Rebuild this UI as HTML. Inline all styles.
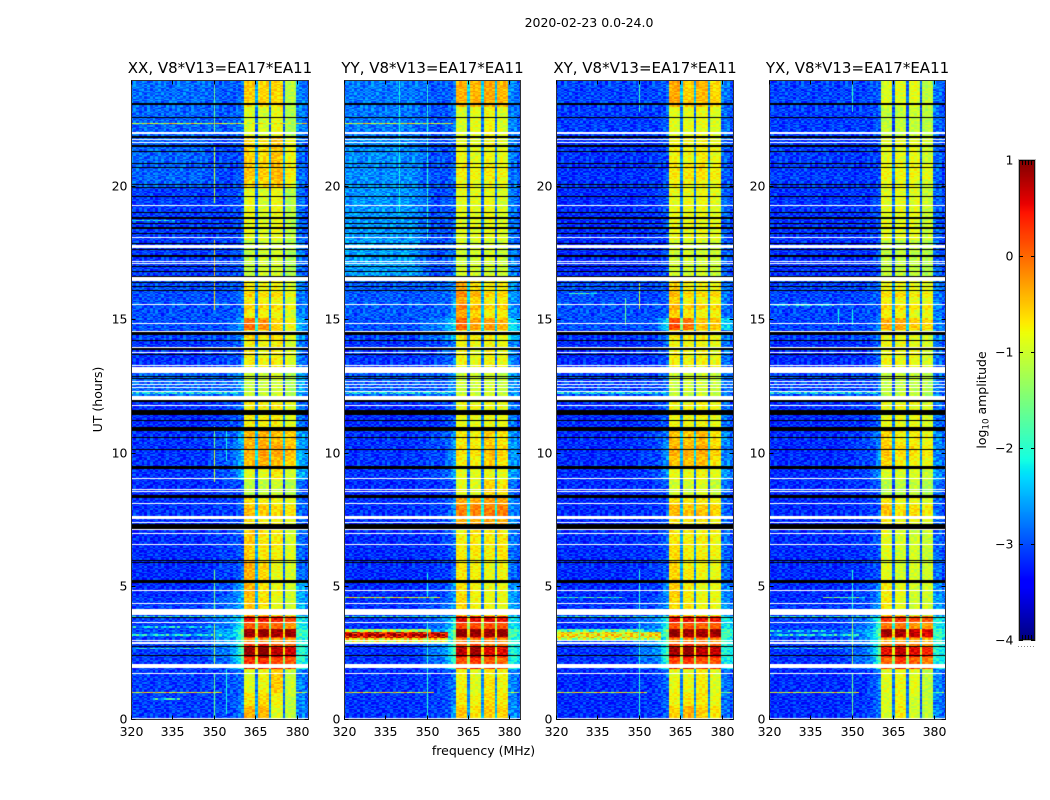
<!DOCTYPE html>
<html lang="en">
<head>
<meta charset="utf-8">
<title>2020-02-23 0.0-24.0</title>
<style>
html,body{margin:0;padding:0;background:#fff;}
#figure{position:relative;width:1050px;height:800px;overflow:hidden;background:#fff;font-family:"DejaVu Sans","Liberation Sans",sans-serif;}
canvas{position:absolute;display:block;}
svg{position:absolute;left:0;top:0;}
text{fill:#000;font-family:"DejaVu Sans","Liberation Sans",sans-serif;}
</style>
</head>
<body>
<div id="figure">
<svg id="overlay" width="1050" height="800">
  <text x="589" y="27" text-anchor="middle" font-size="12.5">2020-02-23 0.0-24.0</text>
  <text x="483.5" y="755" text-anchor="middle" font-size="12.5">frequency (MHz)</text>
  <text transform="translate(102,399.5) rotate(-90)" text-anchor="middle" font-size="12.5">UT (hours)</text>
  <text transform="translate(986,400) rotate(-90)" text-anchor="middle" font-size="12.5">log<tspan font-size="8.7" dy="2.5">10</tspan><tspan dy="-2.5"> amplitude</tspan></text>
</svg>
</div>
<script>
// ---- axis data ----
const freqTicks = [320, 335, 350, 365, 380];
const hourTicks = [0, 5, 10, 15, 20];
const colorTicks = [1, 0, -1, -2, -3, -4];
const panelTitles = ["XX, V8*V13=EA17*EA11", "YY, V8*V13=EA17*EA11", "XY, V8*V13=EA17*EA11", "YX, V8*V13=EA17*EA11"];
const panelKeys = ["xx", "yy", "xy", "yx"];

// ---- time segments (start hour); each panel lists log10 amplitude per segment:
// [bgLeft, bgRight, glowNearBand, subband1, subband2, subband3, subband4]
const segmentStarts = [0,.5,1,1.9,2.3,2.9,3.1,3.42,3.9,4.6,5.2,6,7.2,8.4,9,9.5,10.9,11.9,13.1,14.2,14.6,15.05,16.5,18,20,21.9,23];
const levelsXX = [
[-3.0,-2.95,-2.7,-.4,-.45,-.9,-1.1],[-3.0,-2.95,-2.7,-.7,-.6,-.8,-1.1],[-3.0,-2.95,-2.7,-.95,-.8,-.55,-1.05],
[-3.0,-2.8,-1.6,.55,.55,.4,.35],[-3.0,-2.7,-1.5,.7,.85,.55,.45],[-3.0,-2.6,-1.6,.2,.2,.2,.1],
[-2.9,-2.5,-1.4,.9,.9,.85,.9],[-3.0,-2.7,-1.8,.35,.35,.3,.05],[-3.0,-2.8,-2.4,-.5,-.65,-.9,-1.0],
[-3.1,-2.9,-2.4,-.4,-.7,-.85,-1.0],[-3.1,-3.0,-2.8,-.4,-.6,-.85,-1.0],[-3.1,-3.0,-2.9,-.55,-.7,-.75,-.95],
[-3.05,-3.0,-2.9,-.65,-.75,-.8,-.9],[-3.1,-3.0,-2.9,-1.15,-1.1,-1.05,-1.2],[-3.05,-2.9,-2.3,-.9,-.9,-.7,-1.0],
[-3.05,-2.9,-2.4,-.45,-.4,-.45,-.55],[-3.1,-3.0,-2.8,-.75,-.75,-.75,-.9],[-2.8,-2.8,-2.6,-1.05,-1.05,-1.0,-1.2],
[-3.05,-2.95,-2.8,-.75,-.8,-.75,-.95],[-2.95,-2.9,-2.6,-.6,-.7,-.7,-.9],[-2.9,-2.9,-2.4,-.05,-.2,-.6,-.8],
[-2.9,-2.9,-2.8,-.75,-.8,-.8,-1.0],[-3.0,-2.95,-2.9,-1.1,-1.0,-1.0,-1.2],[-3.0,-3.0,-2.9,-.85,-.95,-.85,-1.15],
[-2.8,-2.95,-2.9,-.6,-.65,-.5,-.85],[-2.8,-2.85,-2.8,-.95,-1.0,-.85,-1.2],[-2.75,-2.85,-2.8,-.55,-.6,-.6,-1.15]];
const levelsYY = [
[-3.05,-3.0,-2.5,-.5,-.7,-.5,-.6],[-3.05,-3.0,-2.7,-.7,-.8,-.6,-.7],[-3.05,-3.0,-2.7,-.8,-.9,-.7,-.8],
[-3.05,-2.8,-1.7,.4,.5,.35,.25],[-3.05,-2.7,-1.6,.55,.7,.4,.35],[-3.0,-2.6,-1.5,.3,.3,.3,.2],
[-2.9,-2.5,-1.3,.95,.95,.9,.9],[-3.05,-2.8,-1.9,.5,.45,.45,.4],[-3.05,-2.9,-2.5,-.6,-.8,-.85,-.85],
[-3.1,-3.0,-2.5,-.65,-.8,-.85,-.85],[-3.1,-3.05,-2.8,-.7,-.75,-.85,-.8],[-3.1,-3.05,-2.8,-.75,-.7,-.75,-.7],
[-3.05,-3.0,-2.6,-.35,-.35,-.3,-.35],[-3.1,-3.05,-2.9,-.9,-.9,-.6,-.7],[-3.05,-2.95,-2.4,-.9,-.9,-.85,-.9],
[-3.05,-2.95,-2.5,-.75,-.8,-.55,-.7],[-3.1,-3.05,-2.8,-.85,-.85,-.85,-.85],[-2.85,-2.85,-2.6,-1.05,-1.05,-1.0,-1.1],
[-3.05,-2.95,-2.7,-.8,-.85,-.8,-.85],[-2.95,-2.75,-2.3,-.7,-.75,-.75,-.8],[-2.9,-2.7,-2.1,0,-.3,-.3,-.4],
[-2.85,-2.85,-2.6,-.35,-.6,-.75,-.75],[-2.5,-2.9,-2.8,-1.0,-1.0,-1.0,-1.05],[-2.55,-2.9,-2.9,-.9,-.9,-.85,-.95],
[-2.6,-2.9,-2.85,-.85,-.9,-.8,-.9],[-2.7,-2.9,-2.8,-.95,-.9,-.8,-.95],[-2.7,-2.85,-2.8,-.4,-.4,-.35,-.45]];
const levelsXY = [
[-3.1,-3.05,-2.8,-.6,-.4,-.55,-.7],[-3.1,-3.05,-2.8,-.8,-.7,-.7,-.85],[-3.1,-3.05,-2.8,-.85,-.85,-.75,-.9],
[-3.05,-2.8,-1.7,.45,.5,.4,.35],[-3.05,-2.7,-1.6,.65,.75,.55,.5],[-3.0,-2.6,-1.6,.3,.3,.3,.2],
[-2.95,-2.5,-1.3,.95,.9,.85,.9],[-3.05,-2.7,-1.9,.4,.4,.35,.35],[-3.05,-2.95,-2.6,-.6,-.7,-.85,-.85],
[-3.1,-3.05,-2.6,-.55,-.75,-.85,-.85],[-3.1,-3.05,-2.85,-.6,-.7,-.8,-.85],[-3.1,-3.05,-2.9,-.65,-.75,-.75,-.8],
[-3.1,-3.05,-2.9,-.65,-.7,-.7,-.8],[-3.1,-3.05,-2.9,-1.0,-1.0,-.95,-1.05],[-3.1,-3.0,-2.5,-.85,-.85,-.8,-.9],
[-3.1,-3.0,-2.6,-.5,-.5,-.45,-.7],[-3.1,-3.05,-2.85,-.8,-.8,-.8,-.85],[-2.95,-2.95,-2.8,-1.05,-1.05,-1.0,-1.1],
[-3.1,-3.05,-2.85,-.75,-.8,-.8,-.85],[-3.05,-3.0,-2.75,-.7,-.75,-.75,-.85],[-2.9,-2.9,-2.0,.15,-.05,-.5,-.5],
[-2.9,-2.95,-2.85,-.6,-.75,-.8,-.8],[-3.1,-3.05,-2.95,-1.0,-1.0,-1.0,-1.05],[-3.1,-3.05,-2.95,-.85,-.85,-.85,-.9],
[-3.05,-3.05,-2.95,-.8,-.8,-.75,-.85],[-3.0,-3.0,-2.9,-.9,-.9,-.85,-.95],[-2.95,-2.95,-2.85,-.35,-.55,-.45,-.6]];
const levelsYX = [
[-3.1,-3.05,-2.6,-1.0,-.7,-1.0,-1.1],[-3.1,-3.05,-2.7,-.95,-.8,-1.0,-1.1],[-3.1,-3.05,-2.7,-.9,-.85,-.9,-1.1],
[-3.05,-2.8,-1.6,.25,.5,.3,.1],[-3.05,-2.8,-1.5,.3,.55,.35,.15],[-3.0,-2.7,-1.6,.1,.1,.1,0],
[-2.9,-2.6,-1.4,.85,.85,.7,.6],[-3.0,-2.8,-1.7,.2,.2,.05,0],[-3.05,-2.95,-2.5,-.7,-.9,-1.0,-1.0],
[-3.1,-3.0,-2.5,-.75,-.9,-1.0,-1.0],[-3.1,-3.05,-2.85,-.9,-1.0,-1.0,-1.0],[-3.1,-3.05,-2.9,-.9,-1.0,-1.0,-1.05],
[-3.1,-3.05,-2.9,-.7,-.85,-.85,-.95],[-3.1,-3.05,-2.9,-1.15,-1.15,-1.1,-1.2],[-3.1,-3.0,-2.5,-.95,-.95,-.95,-1.05],
[-3.1,-3.0,-2.6,-.6,-.75,-.75,-.85],[-3.1,-3.05,-2.85,-.85,-.85,-.85,-.95],[-2.95,-2.95,-2.8,-1.1,-1.1,-1.1,-1.2],
[-3.1,-3.05,-2.85,-.8,-.85,-.85,-.95],[-3.0,-2.95,-2.7,-.85,-.9,-.9,-1.0],[-2.95,-2.95,-2.7,-.35,-.35,-.55,-.6],
[-2.95,-2.95,-2.8,-.8,-.8,-.9,-.9],[-3.05,-3.05,-2.95,-1.1,-1.1,-1.1,-1.2],[-3.05,-3.05,-2.95,-.9,-.9,-.9,-1.05],
[-3.0,-3.05,-2.95,-.9,-.9,-.9,-1.0],[-3.0,-3.0,-2.9,-1.1,-1.1,-1.05,-1.15],[-2.95,-2.95,-2.9,-.95,-.9,-.9,-1.1]];
const panelLevels = [levelsXX, levelsYY, levelsXY, levelsYX];

// ---- band brightness changes shared by all panels: [startHour, endHour, log10 offset]
const bandStripes = [[2.05,2.35,-.25],[2.35,2.75,.2],[2.75,3.05,-.45],[3.42,3.65,-.3],[3.65,3.85,.1],[7.55,8.05,.2],[15.35,15.55,.2],[15.85,16.05,.2],[9.9,10.3,.12],[20.3,20.9,.1]];

// ---- narrow-band interference: [panelIndex, startHour, endHour, startMHz, endMHz, log10 amplitude]
const rfiRows = [
[0,1.0,1.05,320,353,-.75],[1,1.0,1.05,320,353,-.8],[2,1.0,1.05,320,353,-.9],[3,1.0,1.05,320,353,-1.0],
[0,1.0,1.05,380,384,-1.2],[1,1.0,1.05,380,384,-1.4],[2,1.0,1.05,380,384,-1.5],[3,1.0,1.05,380,384,-1.5],
[0,3.15,3.22,320,353,-2.15],[0,2.65,2.7,320,350,-2.3],[0,3.45,3.5,320,350,-2.4],
[3,3.15,3.22,320,353,-2.2],[3,2.65,2.7,320,350,-2.5],[3,3.3,3.35,320,345,-2.5],
[1,3.07,3.3,320,358,.45],[1,3.14,3.2,320,358,.8],[1,3.0,3.07,320,358,-.7],[1,2.9,2.96,320,358,-1.0],[1,3.3,3.4,320,352,-1.3],
[2,3.07,3.3,320,358,-.75],[2,3.0,3.07,320,358,-1.3],[2,3.3,3.4,320,352,-1.8],
[1,4.53,4.58,320,355,-1.0],[2,4.53,4.58,320,345,-2.1],[3,4.53,4.58,340,355,-1.8],
[0,12.21,12.28,320,360,-2.25],[1,12.21,12.28,320,360,-2.3],[2,12.21,12.28,320,360,-2.3],[3,12.21,12.28,320,360,-2.3],
[0,3.85,3.91,320,360,-2.3],[1,3.85,3.91,320,360,-2.3],[2,3.85,3.91,320,360,-2.3],[3,3.85,3.91,320,360,-2.3],
[0,14.2,14.25,320,360,-1.0],[0,22.33,22.38,320,384,-.9],[1,22.33,22.38,320,360,-.9],
[0,0.75,0.8,328,338,-2.2],[0,18.7,18.75,320,336,-2.2],[3,15.5,15.6,320,345,-2.3],[2,15.95,16.02,325,335,-1.9]];
// [panelIndex, MHz, startHour, endHour, log10 amplitude]
const rfiColumns = [
[0,350,0,1.7,-1.6],[0,350,2,3.6,-1.2],[0,350,3.9,5.6,-1.5],[0,350,8.9,10.1,-1.0],[0,350,10.2,11,-1.5],[0,350,15.35,18,-.6],[0,350,19.4,21.5,-1.0],[0,350,22,24,-1.6],
[0,354.4,.2,1.9,-2.1],[0,354.4,9.7,11,-2.1],
[1,350,0,3.7,-2.0],[1,350,4.6,5.5,-2.1],[1,350,18,24,-2.0],[1,340,19,24,-2.1],
[2,350,0,3.7,-2.0],[2,350,4.1,5.6,-2.0],[2,350,22.8,24,-1.9],[2,350,15.4,16.4,-1.0],[2,345,14.8,15.8,-1.6],
[3,350,0,1.7,-1.6],[3,350,2,3.9,-1.3],[3,350,4.1,5.6,-2.0],[3,350,22.8,24,-1.9],[3,345,14.8,15.4,-2.1],[3,350,14.8,15.4,-2.1]];

// ---- flagged time ranges drawn on top of every panel (hours)
const whiteFlags = [[0,.05],[1.70,1.76],[1.92,2.07],[2.84,2.90],[2.94,3.0],[3.61,3.67],[3.91,4.13],[4.33,4.39],[4.82,4.88],[6.55,6.60],[6.96,7.02],[7.09,7.14],[7.36,7.42],[7.53,7.63],[8.08,8.14],[8.53,8.59],[8.61,8.67],[9.02,9.08],[11.76,11.82],[11.98,12.13],[12.29,12.35],[12.44,12.5],[12.55,12.61],[12.66,12.72],[13.0,13.22],[13.27,13.33],[13.75,13.81],[13.94,14.0],[14.55,14.6],[14.84,14.9],[15.56,15.62],[16.45,16.6],[17.10,17.15],[17.18,17.23],[17.70,17.80],[18.08,18.13],[19.28,19.33],[21.65,21.69],[21.73,21.77],[21.97,22.05]];
const blackFlags = [[2.38,2.44],[2.72,2.78],[3.81,3.87],[5.13,5.22],[5.88,5.92],[5.95,5.99],[7.15,7.34],[8.33,8.42],[9.41,9.50],[10.12,10.17],[10.57,10.62],[10.82,10.97],[11.21,11.26],[11.42,11.6],[11.90,11.98],[12.79,12.84],[12.86,12.91],[13.69,13.74],[13.88,13.93],[14.21,14.27],[14.44,14.54],[16.09,16.14],[16.24,16.29],[16.39,16.43],[16.61,16.66],[16.81,16.85],[16.99,17.04],[17.36,17.43],[17.63,17.68],[17.86,17.9],[18.23,18.28],[18.42,18.47],[18.61,18.65],[18.80,18.84],[19.02,19.06],[19.62,19.67],[19.96,20.0],[20.07,20.11],[20.71,20.75],[20.86,20.9],[21.31,21.35],[21.48,21.55],[21.84,21.88],[22.59,22.63],[23.08,23.12]];

// ---- speckle tile (-3..3 once offset)
const speckleTile = [
"3516024635102463","1462350316425063","5203641526034152","2640153624315062",
"4153062514620351","0356214063251436","3624501352416025","5140326461035243",
"2563014325640136","4031562640152463","1654230516324015","3240615342605134",
"6012453160342561","2536140425163042","4105326351460213","0643251526013564",
"3261504340256130","5430162615324061","1526340253641524"];

// ---- layout (pixels)
const plotLefts = [131, 344, 556, 769];
const plotWidths = [177, 176, 177, 176];
const plotTop = 80, plotBottom = 719.5, hourMax = 24, mhzMin = 320, mhzMax = 384;
const channelOrigin = 319.8, channelCount = 65, rowCount = 480;
const cbarLeft = 1019, cbarRight = 1035, cbarTop = 160, cbarBottom = 640, colorMin = -4, colorMax = 1;
const backgroundShift = -.1, backgroundSpeckle = .11, bandSpeckle = .07;

const yScale = h => plotBottom - (h / hourMax) * (plotBottom - plotTop);
const xScale = (p, mhz) => plotLefts[p] + (mhz - mhzMin) / (mhzMax - mhzMin) * plotWidths[p];
const colorY = v => cbarBottom - (v - colorMin) / (colorMax - colorMin) * (cbarBottom - cbarTop);

function ramp(t, pts) {
  if (t <= pts[0][0]) return pts[0][1];
  for (let i = 1; i < pts.length; i++) {
    if (t <= pts[i][0]) {
      const a = pts[i - 1], b = pts[i];
      return a[1] + (b[1] - a[1]) * (t - a[0]) / (b[0] - a[0]);
    }
  }
  return pts[pts.length - 1][1];
}
const redStops = [[0,0],[.35,0],[.66,1],[.89,1],[1,.5]];
const greenStops = [[0,0],[.125,0],[.375,1],[.64,1],[.91,0],[1,0]];
const blueStops = [[0,.5],[.11,1],[.34,1],[.65,0],[1,0]];
function jet(v) {
  const t = Math.max(0, Math.min(1, (v - colorMin) / (colorMax - colorMin)));
  return "rgb(" + Math.round(255 * ramp(t, redStops)) + "," + Math.round(255 * ramp(t, greenStops)) + "," + Math.round(255 * ramp(t, blueStops)) + ")";
}

function segmentFor(hour, levels) {
  let i = 0;
  while (i + 1 < segmentStarts.length && hour >= segmentStarts[i + 1]) i++;
  return levels[i];
}

function bandOffset(hour) {
  let d = 0;
  for (const s of bandStripes) if (hour >= s[0] && hour < s[1]) d += s[2];
  return d;
}

function gapValue(a, b) {
  const mean = (a + b) / 2;
  return mean < 0 ? mean - 1.95 : mean - 1.5;
}

function baseValue(seg, f, hour) {
  const bgL = seg[0] + backgroundShift, bgR = seg[1] + backgroundShift, glow = seg[2];
  const off = bandOffset(hour);
  const bandMean = i => seg[3 + i] + off;
  if (f < 345) return bgL;
  if (f < 352) return bgL + (bgR - bgL) * (f - 345) / 7;
  if (f < 360.8) { const t = (f - 352) / 8.8; return bgR + (glow - bgR) * t * t * t; }
  if (f < 364.8) return bandMean(0);
  if (f < 365.8) return gapValue(bandMean(0), bandMean(1));
  if (f < 369.8) return bandMean(1);
  if (f < 370.8) return gapValue(bandMean(1), bandMean(2));
  if (f < 374.8) return bandMean(2);
  if (f < 375.8) return gapValue(bandMean(2), bandMean(3));
  if (f < 379.9) return bandMean(3);
  return (glow + bgR) / 2 + (f < 383 ? .15 : -.05);
}

function speckle(row, col, p) {
  const rows = speckleTile.length, cols = speckleTile[0].length;
  const block = Math.floor(row / rows);
  const line = speckleTile[row % rows];
  const shift = block * 5 + p * 7;
  return Number(line[(col + shift) % cols]) - 3;
}

function drawFlags(ctx, list, top, width) {
  for (const b of list) {
    const thin = b[1] - b[0] < .07;
    const mid = (b[0] + b[1]) / 2;
    const h0 = thin ? mid - .02 : b[0], h1 = thin ? mid + .02 : b[1];
    const yA = Math.round(yScale(h1)) - top, yB = Math.round(yScale(h0)) - top;
    ctx.fillRect(0, yA, width, Math.max(1, yB - yA));
  }
}

function drawPanel(p) {
  const left = plotLefts[p], width = plotWidths[p];
  const canvas = document.createElement("canvas");
  
  
  const top = Math.round(plotTop), height = Math.round(plotBottom) - top;
  canvas.width = width; canvas.height = height;
  canvas.style.left = left + "px"; canvas.style.top = top + "px";
  canvas.style.width = width + "px"; canvas.style.height = height + "px";
  const ctx = canvas.getContext("2d");
  const levels = panelLevels[p];
  const rowsHere = rfiRows.filter(r => r[0] === p);
  const colsHere = rfiColumns.filter(c => c[0] === p);
  for (let r = 0; r < rowCount; r++) {
    const h0 = r / rowCount * hourMax, h1 = (r + 1) / rowCount * hourMax, hc = (h0 + h1) / 2;
    const seg = segmentFor(hc, levels);
    const yA = Math.round(yScale(h1)) - top, yB = Math.round(yScale(h0)) - top;
    for (let k = 0; k < channelCount; k++) {
      const f0 = channelOrigin + k, fc = f0 + .5;
      let v = baseValue(seg, fc, hc);
      const inBand = fc > 360.8 && fc < 379.9;
      v += speckle(r, k, p) * (inBand ? bandSpeckle : backgroundSpeckle);
      for (const rf of rowsHere) {
        if (hc >= rf[1] && hc < rf[2] && fc >= rf[3] && fc < rf[4]) v = rf[5] + speckle(r, k, p) * .2;
      }
      const xA = Math.max(0, Math.round(xScale(p, f0)) - left);
      const xB = Math.min(width, Math.round(xScale(p, f0 + 1)) - left);
      if (xB <= xA || yB <= yA) continue;
      ctx.fillStyle = jet(v);
      ctx.fillRect(xA, yA, xB - xA, yB - yA);
    }
  }
  for (const cf of colsHere) {
    const x = Math.round(xScale(p, cf[1])) - left;
    const yA = Math.round(yScale(cf[3])) - top, yB = Math.round(yScale(cf[2])) - top;
    ctx.fillStyle = jet(cf[4]);
    ctx.fillRect(x, yA, 1, yB - yA);
  }
  ctx.fillStyle = "#000";
  drawFlags(ctx, blackFlags, top, width);
  ctx.fillStyle = "#fff";
  drawFlags(ctx, whiteFlags, top, width);
  document.getElementById("figure").insertBefore(canvas, document.getElementById("overlay"));
}

const SVGNS = "http://www.w3.org/2000/svg";
const overlay = document.getElementById("overlay");
function line(x1, y1, x2, y2, stroke) {
  const el = document.createElementNS(SVGNS, "line");
  el.setAttribute("x1", x1); el.setAttribute("y1", y1);
  el.setAttribute("x2", x2); el.setAttribute("y2", y2);
  el.setAttribute("stroke", stroke || "#000");
  el.setAttribute("stroke-width", "1");
  overlay.appendChild(el);
  return el;
}
function label(x, y, str, anchor, size) {
  const el = document.createElementNS(SVGNS, "text");
  el.setAttribute("x", x); el.setAttribute("y", y);
  el.setAttribute("text-anchor", anchor);
  el.setAttribute("font-size", size);
  el.textContent = str;
  overlay.appendChild(el);
  return el;
}

function drawAxes(p) {
  const left = plotLefts[p] + .5, right = plotLefts[p] + plotWidths[p] + .5;
  const top = plotTop + .5, bottom = plotBottom;
  const frame = document.createElementNS(SVGNS, "rect");
  frame.setAttribute("x", left); frame.setAttribute("y", top);
  frame.setAttribute("width", right - left); frame.setAttribute("height", bottom - top);
  frame.setAttribute("fill", "none"); frame.setAttribute("stroke", "#333");
  
  
  overlay.appendChild(frame);

  const title = label((left + right) / 2, 73, panelTitles[p], "middle", 15);
  
  

  freqTicks.forEach(f => {
    const x = Math.round(xScale(p, f)) + .5;
    const t1 = line(x, bottom, x, bottom - 4);
    
    
    const t2 = line(x, top, x, top + 4);
    
    
    const tl = label(x, 736, String(f), "middle", 12.5);
    
    
  });
  hourTicks.forEach(h => {
    const y = Math.floor(yScale(h)) + .5;
    const t1 = line(left, y, left + 4, y);
    
    
    const t2 = line(right, y, right - 4, y);
    
    
    const tl = label(left - 4, y + 4, String(h), "end", 12.5);
    
    
  });
}

function drawColorbar() {
  const canvas = document.createElement("canvas");
  
  
  const w = cbarRight - cbarLeft, h = cbarBottom - cbarTop;
  canvas.width = w; canvas.height = h;
  canvas.style.left = cbarLeft + "px"; canvas.style.top = cbarTop + "px";
  const ctx = canvas.getContext("2d");
  for (let y = 0; y < h; y++) {
    ctx.fillStyle = jet(colorMax - (y + .5) / h * (colorMax - colorMin));
    ctx.fillRect(0, y, w, 1);
  }
  document.getElementById("figure").insertBefore(canvas, overlay);

  const outer = document.createElementNS(SVGNS, "rect");
  outer.setAttribute("x", cbarLeft - .5); outer.setAttribute("y", cbarTop - .5);
  outer.setAttribute("width", w + 1); outer.setAttribute("height", h + 1);
  outer.setAttribute("fill", "none"); outer.setAttribute("stroke", "#bbb");
  
  
  overlay.appendChild(outer);
  const frame = document.createElementNS(SVGNS, "rect");
  frame.setAttribute("x", cbarLeft + .5); frame.setAttribute("y", cbarTop + .5);
  frame.setAttribute("width", w - 1); frame.setAttribute("height", h - 1);
  frame.setAttribute("fill", "none"); frame.setAttribute("stroke", "#111");
  
  
  overlay.appendChild(frame);

  colorTicks.forEach(v => {
    const y = Math.round(colorY(v)) + .5;
    const a = line(cbarLeft, y, cbarLeft + 4, y);
    
    
    const b = line(cbarRight, y, cbarRight - 4, y);
    
    
    const tl = label(1013.5, Math.round(colorY(v)) + 4.5, (v < 0 ? "\u2212" + Math.abs(v) : String(v)), "end", 12.5);
    
    
  });
  [1022.5, 1025.5, 1028.5, 1031.5].forEach(x => {
    const a = line(x, cbarTop, x, cbarTop + 5);
    
    
    const b = line(x, cbarBottom, x, cbarBottom - 5);
    
    
  });
  [1018, 1021, 1024, 1027, 1030, 1033].forEach(x => {
    const d = document.createElementNS(SVGNS, "rect");
    d.setAttribute("x", x); d.setAttribute("y", 646);
    d.setAttribute("width", 1); d.setAttribute("height", 1);
    d.setAttribute("fill", "#888");
    
    
    overlay.appendChild(d);
  });
}

panelTitles.forEach((_, p) => { drawPanel(p); drawAxes(p); });
drawColorbar();
</script>
</body>
</html>
